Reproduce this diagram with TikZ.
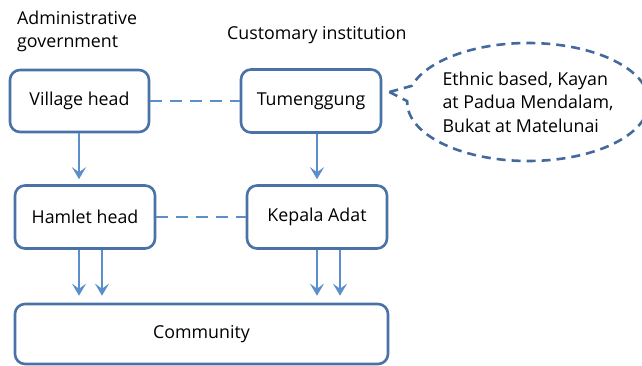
\documentclass[tikz,border=0pt]{standalone}
\usepackage{fontspec}
\setmainfont{Open Sans}
\usetikzlibrary{arrows.meta,calc,shapes.callouts}
\definecolor{boxline}{HTML}{4A72A6}
\definecolor{arrowblue}{HTML}{5B8FCC}
\definecolor{noteline}{HTML}{44699C}
\tikzset{
  unit/.style={draw=boxline, line width=2.6pt, rounded corners=10pt,
    minimum width=140pt, minimum height=63pt, inner sep=0pt,
    font=\fontsize{17.8}{21}\selectfont},
  down/.style={draw=arrowblue, line width=2.3pt,
    -{Stealth[length=12pt,width=14pt,inset=5pt]}},
  link/.style={draw=arrowblue, line width=2.6pt, dash pattern=on 12pt off 8pt},
  heading/.style={anchor=base west, inner sep=0pt, align=left,
    font=\fontsize{17.8}{23}\selectfont},
}
\begin{document}
\begin{tikzpicture}[x=1pt,y=-1pt]
\useasboundingbox (0,0) rectangle (642,365);

% column headings
\node[heading] (adm) at (17,47) {Administrative\\government};
\node[heading] (cus) at (227,39) {Customary institution};

% offices
\node[unit, minimum width=139pt, minimum height=62pt] (village) at (79.5,101) {Village head};
\node[unit] (tum) at (311,101) {Tumenggung};
\node[unit] (hamlet) at (85,217) {Hamlet head};
\node[unit] (kepala) at (317,217) {Kepala Adat};
\node[unit, minimum width=373pt, minimum height=60pt] (comm) at (201.5,334) {Community};

% equivalence between the two systems
\draw[link] (village.east) -- (village.east -| tum.west);
\draw[link] (hamlet.east) -- (hamlet.east -| kepala.west);

% lines of authority
\coordinate (v1) at ($(village.south)+(-0.5,0)$);
\draw[down, shorten >=5pt] (v1) -- (v1 |- hamlet.north);
\coordinate (t1) at (kepala.north |- tum.south);
\draw[down, shorten >=5pt] (t1) -- (kepala.north);

\coordinate (h1) at ($(hamlet.south)+(-6,0)$);
\coordinate (h2) at ($(hamlet.south)+(17,0)$);
\coordinate (k1) at ($(kepala.south)+(0,0)$);
\coordinate (k2) at ($(kepala.south)+(23,0)$);
\foreach \p in {h1,h2,k1,k2}
  \draw[down, shorten >=7pt] (\p) -- (\p |- comm.north);

% note on the customary side
\node[ellipse callout, draw=noteline, line width=2.6pt, dash pattern=on 9pt off 6pt,
  minimum width=222pt, minimum height=118pt, inner sep=0pt, align=left,
  callout absolute pointer={([xshift=7pt,yshift=9pt]tum.east)},
  font=\fontsize{17.8}{23.5}\selectfont] (note) at (528,102)
  {Ethnic based, Kayan\\at Padua Mendalam,\\Bukat at Matelunai};
\end{tikzpicture}
\end{document}
